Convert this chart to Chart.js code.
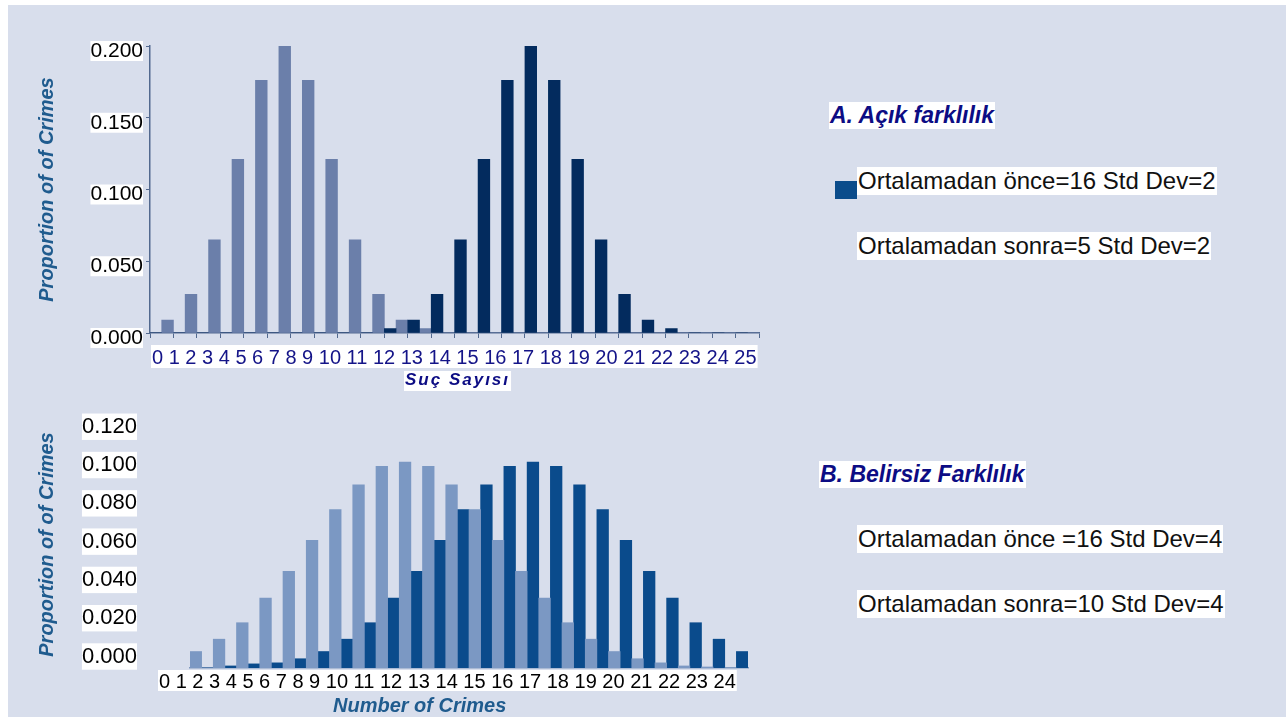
<!DOCTYPE html>
<html lang="tr">
<head>
<meta charset="UTF-8">
<title>Suç Sayısı</title>
<script src="https://cdn.jsdelivr.net/npm/chart.js@4.4.1/dist/chart.umd.min.js"></script>
<style>
  html, body { margin: 0; padding: 0; background: #fff; }
  body { width: 1286px; height: 717px; position: relative; overflow: hidden; }
  #page { position: absolute; left: 8px; top: 5px; right: 0; bottom: 0; background: #d8deec; }
  .box { position: absolute; }
  .note { position: absolute; background: #fff; line-height: 31px; padding: 0 1px; white-space: nowrap; }
  .head { font: italic bold 23px 'Liberation Sans', Arial, sans-serif; color: #0c0c84; }
  .item { font: 24px 'Liberation Sans', Arial, sans-serif; color: #111; }
  .swatch { position: absolute; width: 22px; height: 18px; background: #0b4c8b; }
</style>
</head>
<body>
<div id="page"></div>

<div class="box" style="left:10px;top:20px;width:770px;height:380px"><canvas id="topChart"></canvas></div>
<div class="box" style="left:10px;top:400px;width:770px;height:317px"><canvas id="bottomChart"></canvas></div>

<div class="note head" id="headA" style="left:829px;top:102px"></div>
<div class="swatch" style="left:835px;top:181px"></div>
<div class="note item" id="legA0" style="left:857px;top:167px"></div>
<div class="note item" id="legA1" style="left:857px;top:232px"></div>

<div class="note head" id="headB" style="left:819px;top:461px"></div>
<div class="note item" id="legB0" style="left:857px;top:525px"></div>
<div class="note item" id="legB1" style="left:857px;top:590px"></div>

<script>
    // A: clear difference (sd 2)
    const topCategories = ['0','1','2','3','4','5','6','7','8','9','10','11','12',
        '13','14','15','16','17','18','19','20','21','22','23','24','25'];
    const topBefore = [0, 0, 0, 0, 0, 0, 0, 0, 0, 0, 0.003, 0.009, 0.027,
        0.065, 0.121, 0.176, 0.2, 0.176, 0.121, 0.065, 0.027, 0.009, 0.003, 0, 0, 0];
    const topAfter = [0.009, 0.027, 0.065, 0.121, 0.176, 0.2, 0.176, 0.121, 0.065, 0.027,
        0.009, 0.003, 0, 0, 0, 0, 0, 0, 0, 0, 0, 0, 0, 0, 0, 0];
    const topTickLabels = ['0','1','2','3','4','5','6','7','8','9','10','11','12',
        '13','14','15','16','17','18','19','20','21','22','23','24','25'];
    const topYTicks = [0, 0.05, 0.1, 0.15, 0.2];

    // B: unclear difference (sd 4)
    const bottomCategories = ['1','2','3','4','5','6','7','8','9','10','11','12',
        '13','14','15','16','17','18','19','20','21','22','23','24'];
    const bottomAfter = [0.008, 0.014, 0.022, 0.034, 0.047, 0.062, 0.077, 0.089, 0.098, 0.1,
        0.098, 0.089, 0.077, 0.062, 0.047, 0.034, 0.022, 0.014, 0.008, 0.0045, 0.0025, 0.001, 0.0005, 0];
    const bottomBefore = [0, 0.001, 0.002, 0.0025, 0.0045, 0.008, 0.014, 0.022, 0.034, 0.047,
        0.062, 0.077, 0.089, 0.098, 0.1, 0.098, 0.089, 0.077, 0.062, 0.047, 0.034, 0.022, 0.014, 0.008];
    const bottomTickLabels = ['0','1','2','3','4','5','6','7','8','9','10','11','12',
        '13','14','15','16','17','18','19','20','21','22','23','24'];
    const bottomYTicks = [0, 0.02, 0.04, 0.06, 0.08, 0.1, 0.12];

    const panelTitles = ['A. Açık farklılık', 'B. Belirsiz Farklılık'];
    const topLegend = ['Ortalamadan önce=16 Std Dev=2', 'Ortalamadan sonra=5 Std Dev=2'];
    const bottomLegend = ['Ortalamadan önce =16 Std Dev=4', 'Ortalamadan sonra=10 Std Dev=4'];
    const yTitle = 'Proportion of of Crimes';
    const topXTitle = 'Suç Sayısı';
    const bottomXTitle = 'Number of Crimes';

    const FONT = "'Liberation Sans', Arial, sans-serif";
    const AXIS = '#52698f';
    const STEEL = '#1f5b8e';

    document.getElementById('headA').textContent = panelTitles[0];
    document.getElementById('headB').textContent = panelTitles[1];
    document.getElementById('legA0').textContent = topLegend[0];
    document.getElementById('legA1').textContent = topLegend[1];
    document.getElementById('legB0').textContent = bottomLegend[0];
    document.getElementById('legB1').textContent = bottomLegend[1];

    // text rows under the x axis (number strip + axis name), placed from the chart area
    function stripPlugin(items) {
        return {
            id: 'strips',
            afterDraw(chart) {
                const ctx = chart.ctx;
                const area = chart.chartArea;
                items.forEach(it => {
                    ctx.save();
                    ctx.font = it.font;
                    if ('letterSpacing' in ctx) ctx.letterSpacing = it.spacing || '0px';
                    const x = area.left + it.dx;
                    const y = area.bottom + it.dy;
                    const w = ctx.measureText(it.text).width;
                    if (it.box) {
                        ctx.fillStyle = '#fff';
                        ctx.fillRect(x - 1, y - it.box[0], w + 2, it.box[0] + it.box[1]);
                    }
                    ctx.fillStyle = it.color;
                    ctx.textBaseline = 'alphabetic';
                    ctx.fillText(it.text, x, y);
                    ctx.restore();
                });
            }
        };
    }

    const fullWidth = { categoryPercentage: 1, barPercentage: 1 };
    const titleFont = { family: FONT, size: 20, weight: 'bold', style: 'italic' };

    new Chart(document.getElementById('topChart'), {
        type: 'bar',
        data: {
            labels: topCategories,
            datasets: [
                { label: topLegend[0], data: topBefore, backgroundColor: '#032b5e', ...fullWidth },
                { label: topLegend[1], data: topAfter, backgroundColor: '#6b7faa', ...fullWidth }
            ]
        },
        options: {
            responsive: true,
            maintainAspectRatio: false,
            animation: false,
            devicePixelRatio: 1,
            layout: { padding: { top: 26, right: 20.7, bottom: 0, left: 0 } },
            plugins: { legend: { display: false }, tooltip: { enabled: false } },
            scales: {
                x: {
                    grid: { offset: true, drawOnChartArea: false, tickLength: 5, color: AXIS },
                    border: { color: AXIS, width: 1.5 },
                    ticks: { display: false },
                    afterFit: s => { s.height = 67; s.paddingLeft = 0; s.paddingRight = 0; }
                },
                y: {
                    min: 0,
                    max: 0.2,
                    afterBuildTicks: s => { s.ticks = topYTicks.map(v => ({ value: v })); },
                    grid: { drawOnChartArea: false, tickLength: 4, color: AXIS },
                    border: { color: AXIS, width: 1.5 },
                    ticks: {
                        padding: 3,
                        labelOffset: 5,
                        color: '#000',
                        font: { family: FONT, size: 21, lineHeight: 0.95 },
                        showLabelBackdrop: true,
                        backdropColor: '#fff',
                        backdropPadding: 0,
                        autoSkip: false,
                        callback: v => v.toFixed(3)
                    },
                    title: { display: true, text: yTitle, color: STEEL, font: titleFont, padding: { top: 25.5, bottom: 0 } },
                    afterFit: s => { s.width = 140; s.paddingTop = 0; s.paddingBottom = 0; }
                }
            }
        },
        plugins: [stripPlugin([
            { text: topTickLabels.join(' '), dx: 2, dy: 31, font: '20px ' + FONT, color: '#141488', box: [19, 4] },
            { text: topXTitle, dx: 255, dy: 52, font: 'italic bold 17px ' + FONT, color: '#0c0c84', spacing: '2px', box: [14, 6] }
        ])]
    });

    new Chart(document.getElementById('bottomChart'), {
        type: 'bar',
        data: {
            labels: bottomCategories,
            datasets: [
                { label: bottomLegend[1], data: bottomAfter, backgroundColor: '#7b98c3', ...fullWidth },
                { label: bottomLegend[0], data: bottomBefore, backgroundColor: '#0a4b8c', ...fullWidth }
            ]
        },
        options: {
            responsive: true,
            maintainAspectRatio: false,
            animation: false,
            devicePixelRatio: 1,
            layout: { padding: { top: 21, right: 32, bottom: 0, left: 0 } },
            plugins: { legend: { display: false }, tooltip: { enabled: false } },
            scales: {
                x: {
                    grid: { display: false, drawTicks: false },
                    border: { color: '#7f98be', width: 1.5 },
                    ticks: { display: false },
                    afterFit: s => { s.height = 49; s.paddingLeft = 0; s.paddingRight = 0; }
                },
                y: { display: false, min: 0, max: 0.12 },
                // label column of the value axis
                yl: {
                    type: 'linear',
                    axis: 'y',
                    position: 'left',
                    min: -0.006,
                    max: 0.123,
                    afterBuildTicks: s => { s.ticks = bottomYTicks.map(v => ({ value: v })); },
                    grid: { display: false, drawTicks: false },
                    border: { display: false },
                    ticks: {
                        padding: 53,
                        color: '#000',
                        font: { family: FONT, size: 22 },
                        showLabelBackdrop: true,
                        backdropColor: '#fff',
                        backdropPadding: 0,
                        autoSkip: false,
                        callback: v => v.toFixed(3)
                    },
                    title: { display: true, text: yTitle, color: STEEL, font: titleFont, padding: { top: 25.5, bottom: 0 } },
                    afterFit: s => { s.width = 180; s.paddingTop = 0; s.paddingBottom = 0; }
                }
            }
        },
        plugins: [stripPlugin([
            { text: bottomTickLabels.join(' '), dx: -31, dy: 20, font: '20px ' + FONT, color: '#000', box: [18, 3] },
            { text: bottomXTitle, dx: 143, dy: 43.5, font: 'italic bold 20px ' + FONT, color: STEEL }
        ])]
    });
</script>
</body>
</html>
